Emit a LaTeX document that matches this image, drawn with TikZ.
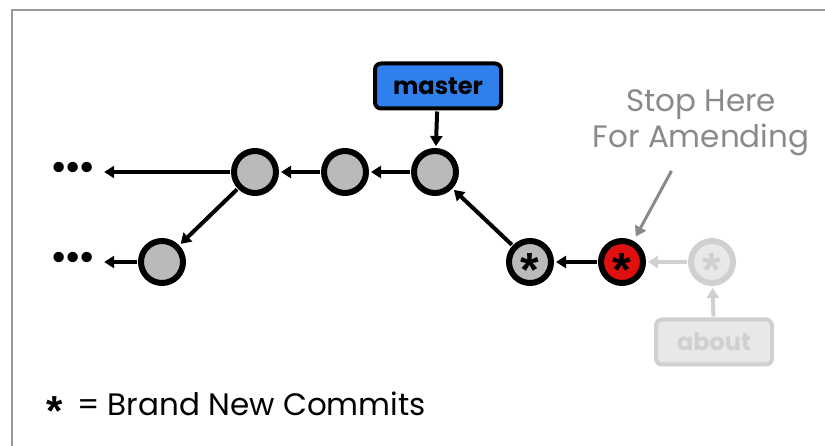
\documentclass[tikz,border=0pt]{standalone}
\usepackage{fontspec}
\setmainfont{Poppins}
\newfontfamily\starfont{Liberation Sans}
\usepackage{xcolor}
\usetikzlibrary{arrows.meta,positioning}
\definecolor{masterblue}{HTML}{2F80EC}
\definecolor{headred}{HTML}{E01010}
\definecolor{notegray}{HTML}{8A8A8A}
\definecolor{fadeline}{HTML}{D0D0D0}
\definecolor{fadefill}{HTML}{E8E8E8}
\newcommand{\newmark}[1]{\raisebox{#1}[0pt][0pt]{\starfont\bfseries *}}

\begin{document}
\begin{tikzpicture}[x=1pt,y=-1pt,
  commit/.style={circle, draw=black, line width=6pt, fill=black!27, minimum size=42pt, inner sep=0pt},
  link/.style={-{Triangle[length=10pt,width=12pt]}, line width=4pt, shorten >=2pt, shorten <=1pt},
  star/.style={font=\fontsize{48}{48}\selectfont},
  dots/.style={inner sep=0pt, font=\fontsize{42}{42}\selectfont}]
  \useasboundingbox (0,0) rectangle (825,446);
  \draw[line width=2pt, black!40] (12,446) -- (12,10) -- (825,10);

  \node (c0) [commit] at (255,172) {};
  \node (c1) [commit] at (345,172) {};
  \node (c2) [commit] at (435,172) {};
  \node (b0) [commit] at (162,262) {};
  \node (n0) [commit, star] at (530,262) {\newmark{-0.51em}};
  \node (n1) [commit, star, fill=headred] at (622,262) {\newmark{-0.51em}};
  \node (n2) [commit, star, draw=fadeline, fill=fadefill, text=fadeline] at (712,262) {\newmark{-0.51em}};

  \node (dotsA) [dots] at (73,172) {\textbullet\kern-3pt\textbullet\kern-3pt\textbullet};
  \node (dotsB) [dots] at (73,262) {\textbullet\kern-3pt\textbullet\kern-3pt\textbullet};

  \node (master) [rectangle, rounded corners=6pt, draw=black, line width=4pt, fill=masterblue, minimum width=126pt, minimum height=45pt, font=\fontsize{24}{24}\selectfont\bfseries] at (438,86) {master};
  \node (about) [rectangle, rounded corners=6pt, draw=fadeline, line width=4pt, fill=fadefill, text=fadeline, minimum width=116pt, minimum height=45pt, font=\fontsize{24}{24}\selectfont\bfseries] at (714,342) {about};

  \node (note) [text=notegray, align=center, font=\fontsize{31}{36}\selectfont] at (701,123) {Stop Here\\For Amending};
  \coordinate (noteTail) at (672,170);

  \draw[link, shorten >=8pt] (c0) -- (dotsA);
  \draw[link] (c1) -- (c0);
  \draw[link] (c2) -- (c1);
  \draw[link] (c0) -- (b0);
  \draw[link, shorten >=8pt] (b0) -- (dotsB);
  \draw[link] (master) -- (c2);
  \draw[link] (n0) -- (c2);
  \draw[link] (n1) -- (n0);
  \draw[link, fadeline] (n2) -- (n1);
  \draw[link, fadeline] (about) -- (n2);
  \draw[link, notegray, line width=3pt, shorten >=5pt] (noteTail) -- (n1);

  \node (legend) [anchor=base west, font=\fontsize{31}{31}\selectfont] at (43,415) {{\fontsize{42}{42}\selectfont\newmark{-0.25em}\kern6pt} = Brand New Commits};
\end{tikzpicture}
\end{document}
